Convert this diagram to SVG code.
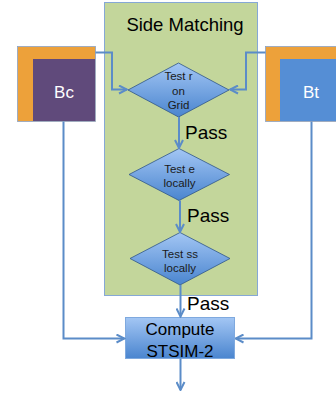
<svg xmlns="http://www.w3.org/2000/svg" width="336" height="398" viewBox="0 0 336 398">
  <defs>
    <linearGradient id="blueGrad" x1="0" y1="0" x2="0" y2="1">
      <stop offset="0" stop-color="#a3c6f4"/>
      <stop offset="1" stop-color="#4a85cf"/>
    </linearGradient>
    <marker id="arrow" viewBox="0 0 10 10" refX="9" refY="5" markerWidth="10" markerHeight="10" markerUnits="userSpaceOnUse" orient="auto">
      <path d="M1,1 L9,5 L1,9" fill="none" stroke="#5b8cc8" stroke-width="2"/>
    </marker>
    <style>
      .conn { fill: none; stroke: #5b8cc8; stroke-width: 2; marker-end: url(#arrow); }
      .dia { fill: url(#blueGrad); stroke: #2f5688; stroke-width: 0.8; }
      .dtxt { font-family: "Liberation Sans", Arial, sans-serif; font-size: 11.5px; fill: #1a1a1a; text-anchor: middle; }
      .pass { font-family: "Liberation Sans", Arial, sans-serif; font-size: 19px; fill: #000; }
      .orange { fill: #eda13a; }
    </style>
  </defs>

  <!-- side matching panel -->
  <g id="side-matching">
    <rect x="104.5" y="2.5" width="153" height="293" fill="#c3d69b" stroke="#86a8d6" stroke-width="1"/>
    <text x="185" y="31" font-family="Liberation Sans, Arial, sans-serif" font-size="18.5" fill="#000" text-anchor="middle">Side Matching</text>
  </g>

  <!-- candidate block Bc -->
  <g id="Bc">
    <rect x="17.5" y="46.5" width="78" height="75" fill="#eda13a" stroke="#8aa4c8" stroke-width="0.8"/>
    <rect x="33" y="59" width="62" height="62" fill="#604a7b"/>
    <text x="64" y="98" font-family="Liberation Sans, Arial, sans-serif" font-size="17" fill="#ffffff" text-anchor="middle">Bc</text>
  </g>

  <!-- target block Bt -->
  <g id="Bt">
    <rect x="265.5" y="46.5" width="75" height="75" fill="#eda13a" stroke="#8aa4c8" stroke-width="0.8"/>
    <rect x="280" y="59" width="60" height="62" fill="#558ed5"/>
    <text x="311" y="98" font-family="Liberation Sans, Arial, sans-serif" font-size="17" fill="#ffffff" text-anchor="middle">Bt</text>
  </g>

  <!-- decision: test r on grid -->
  <g id="test-r">
    <polygon class="dia" points="178.5,63 229,90 178.5,117 128,90"/>
    <text class="dtxt" x="178.5" y="80">Test r</text>
    <text class="dtxt" x="178.5" y="94.5">on</text>
    <text class="dtxt" x="178.5" y="109">Grid</text>
  </g>

  <!-- decision: test e locally -->
  <g id="test-e">
    <polygon class="dia" points="179,148.5 229.5,174.5 179,200.5 129,174.5"/>
    <text class="dtxt" x="179.5" y="173">Test e</text>
    <text class="dtxt" x="179.5" y="187">locally</text>
  </g>

  <!-- decision: test ss locally -->
  <g id="test-ss">
    <polygon class="dia" points="180,232.5 230,258.5 180,285 130,258.5"/>
    <text class="dtxt" x="180" y="257.5">Test ss</text>
    <text class="dtxt" x="180" y="271.5">locally</text>
  </g>

  <!-- compute STSIM-2 -->
  <g id="compute">
    <rect x="125.5" y="317.5" width="109" height="41" fill="url(#blueGrad)" stroke="#7fa9de" stroke-width="1"/>
    <text x="180" y="335" font-family="Liberation Sans, Arial, sans-serif" font-size="17" fill="#000" text-anchor="middle">Compute</text>
    <text x="180" y="356.5" font-family="Liberation Sans, Arial, sans-serif" font-size="17" fill="#000" text-anchor="middle">STSIM-2</text>
  </g>

  <!-- connectors -->
  <g id="connectors">
    <path class="conn" d="M95.5,52.5 H112 V89.5 H127"/>
    <path class="conn" d="M265.5,52.5 H246 V89.5 H230"/>
    <path class="conn" d="M179,117 V148"/>
    <path class="conn" d="M180,200.5 V232"/>
    <path class="conn" d="M180.5,285 V316.5"/>
    <path class="conn" d="M63.5,121.5 V338.5 H124.5"/>
    <path class="conn" d="M311.5,121.5 V338.5 H235.5"/>
    <path class="conn" d="M180.5,358.5 V390"/>
  </g>

  <!-- branch labels -->
  <g id="labels">
    <text class="pass" x="185" y="139">Pass</text>
    <text class="pass" x="187" y="222">Pass</text>
    <text class="pass" x="187" y="310">Pass</text>
  </g>
</svg>
